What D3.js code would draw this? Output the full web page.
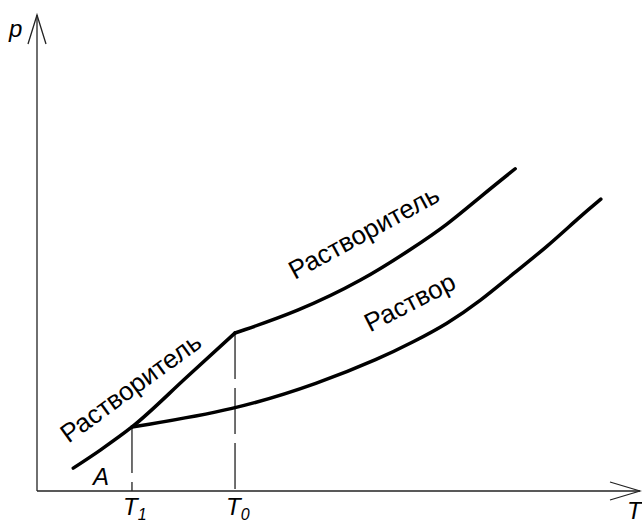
<!DOCTYPE html>
<html><head><meta charset="utf-8">
<script src="https://cdn.jsdelivr.net/npm/d3@7"></script>
<style>
body{margin:0;background:#fff}
svg{display:block}
text{font-family:"Liberation Sans",Arial,sans-serif;fill:#000}
</style>
</head><body><div id="chart"></div>
<script>
// Data (arbitrary units: T along x, p along y)
const solidSolventT  = [0.60, 1.05, 1.575, 2.49, 3.284];
const solidSolventP  = [0.48, 0.86, 1.345, 2.40, 3.32];
const liquidSolventT = [3.284, 4.31, 5.41, 6.235, 6.80, 7.35, 7.93];
const liquidSolventP = [3.32, 3.76, 4.43, 5.105, 5.59, 6.18, 6.77];
const solutionT      = [1.575, 3.284, 4.69, 5.69, 6.235, 6.80, 7.35, 7.89, 8.46, 9.00, 9.35];
const solutionP      = [1.345, 1.70, 2.27, 2.79, 3.13, 3.51, 3.99, 4.56, 5.13, 5.76, 6.13];
const markT          = [1.575, 3.284];          // T1, T0
const markP          = [1.345, 3.32];
const markSub        = ["1", "0"];
const curveLabels    = ["Растворитель", "Растворитель", "Раствор"];

const W = 642, H = 526;
const x = d3.scaleLinear().domain([0, 10]).range([37, 640]);
const y = d3.scaleLinear().domain([0, 10]).range([491, 15]);

const svg = d3.select("#chart").append("svg").attr("width", W).attr("height", H);

// axes
const axisColor = "#222";
svg.append("line").attr("x1", x(0)).attr("y1", y(0)).attr("x2", x(10)).attr("y2", y(0))
  .attr("stroke", axisColor).attr("stroke-width", 1.3);
svg.append("line").attr("x1", x(0)).attr("y1", y(0)).attr("x2", x(0)).attr("y2", y(10))
  .attr("stroke", axisColor).attr("stroke-width", 1.3);
// open arrowheads
svg.append("path")
  .attr("d", `M${x(10)-30},${y(0)-9}L${x(10)},${y(0)}L${x(10)-30},${y(0)+9}`)
  .attr("fill", "none").attr("stroke", axisColor).attr("stroke-width", 1.3);
svg.append("path")
  .attr("d", `M${x(0)-9},${y(10)+29}L${x(0)},${y(10)}L${x(0)+9},${y(10)+29}`)
  .attr("fill", "none").attr("stroke", axisColor).attr("stroke-width", 1.3);

// axis labels
svg.append("text").attr("x", 9).attr("y", 37).attr("font-size", 24).attr("font-style", "italic").text("p");
svg.append("text").attr("x", 627).attr("y", 519).attr("font-size", 24).attr("font-style", "italic").text("T");

// dashed guide lines and their T labels
markT.forEach((t, i) => {
  svg.append("line").attr("x1", x(t)).attr("x2", x(t)).attr("y1", y(markP[i])).attr("y2", y(0))
    .attr("stroke", axisColor).attr("stroke-width", 1.3).attr("stroke-dasharray", "46,9");
  const tx = svg.append("text").attr("x", x(t) - 9).attr("y", 515).attr("font-size", 24).attr("font-style", "italic");
  tx.append("tspan").text("T");
  tx.append("tspan").attr("dy", 5).attr("font-size", 16).text(markSub[i]);
});

// curves
const lineShort = d3.line().x(d => x(d[0])).y(d => y(d[1])).curve(d3.curveMonotoneX);
const lineLong  = d3.line().x(d => x(d[0])).y(d => y(d[1])).curve(d3.curveBasis);
const series = [
  [d3.zip(solidSolventT, solidSolventP), lineShort],
  [d3.zip(liquidSolventT, liquidSolventP), lineLong],
  [d3.zip(solutionT, solutionP), lineLong]
];
series.forEach(([s, gen]) => {
  svg.append("path").attr("d", gen(s)).attr("fill", "none")
    .attr("stroke", "#000").attr("stroke-width", 3.5).attr("stroke-linecap", "round").attr("stroke-linejoin", "round");
});

// curve labels
const labelPlace = [[1.64, 2.02, -36], [5.49, 5.27, -28.5], [6.25, 3.80, -27]];
curveLabels.forEach((t, i) => {
  const [lt, lp, a] = labelPlace[i];
  svg.append("text").attr("font-size", 26).attr("text-anchor", "middle")
    .attr("transform", `translate(${x(lt)},${y(lp)}) rotate(${a})`).text(t);
});

// point label A
svg.append("text").attr("x", 101).attr("y", 485).attr("font-size", 24).attr("font-style", "italic")
  .attr("text-anchor", "middle").text("A");
</script>
</body></html>
